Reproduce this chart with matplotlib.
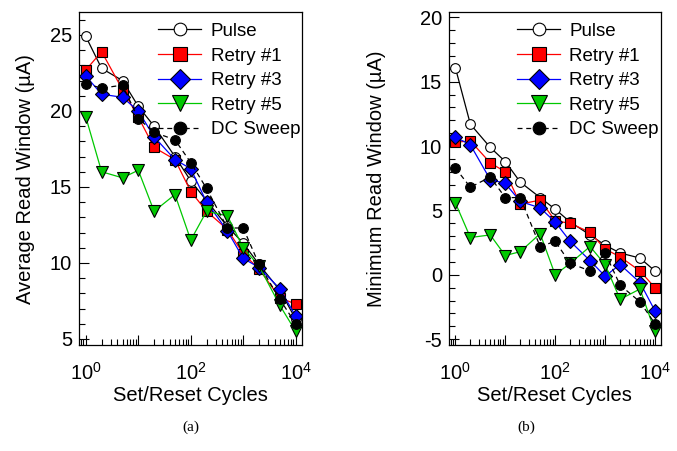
import matplotlib
matplotlib.use('Agg')
import matplotlib.pyplot as plt
from matplotlib.ticker import LogLocator, MultipleLocator, NullFormatter, FixedLocator, FixedFormatter

plt.rcParams['font.family'] = ['Liberation Sans', 'DejaVu Sans']
plt.rcParams['mathtext.fontset'] = 'custom'
plt.rcParams['mathtext.rm'] = 'Liberation Sans'
plt.rcParams['mathtext.it'] = 'Liberation Sans'
plt.rcParams['axes.unicode_minus'] = False

cycles = [1, 2, 5, 10, 20, 50, 100, 200, 500, 1000, 2000, 5000, 10000]
series_names = ['Pulse', 'Retry #1', 'Retry #3', 'Retry #5', 'DC Sweep']

# (a) average read window, uA
avg_pulse = [24.9, 22.8, 22.0, 20.3, 19.0, 17.0, 15.4, 14.1, 12.4, 11.3, 9.9, 8.2, 6.3]
avg_retry1 = [22.7, 23.9, 21.4, 19.6, 17.6, 16.8, 14.7, 13.4, 12.2, 10.6, 9.6, 7.7, 7.3]
avg_retry3 = [22.3, 21.1, 20.9, 20.0, 18.3, 16.8, 16.2, 14.0, 12.1, 10.3, 9.7, 8.3, 6.5]
avg_retry5 = [19.6, 16.0, 15.6, 16.1, 13.4, 14.5, 11.5, 13.4, 13.1, 11.0, 9.8, 7.2, 5.5]
avg_dc = [21.8, 21.5, 21.7, 19.5, 18.6, 18.1, 16.6, 14.9, 12.3, 12.3, 9.9, 7.6, 6.0]

# (b) minimum read window, uA
min_pulse = [16.1, 11.7, 9.9, 8.8, 7.2, 6.0, 5.1, 4.1, 3.1, 2.3, 1.7, 1.3, 0.3]
min_retry1 = [10.3, 10.4, 8.7, 8.0, 5.5, 5.8, 4.2, 4.0, 3.3, 2.0, 1.4, 0.3, -1.0]
min_retry3 = [10.7, 10.1, 7.4, 7.1, 5.7, 5.2, 4.1, 2.6, 1.1, -0.1, 0.8, -0.6, -2.8]
min_retry5 = [5.6, 2.9, 3.1, 1.5, 1.8, 3.2, 0.0, 0.9, 2.2, 0.8, -1.9, -1.1, -4.4]
min_dc = [8.3, 6.8, 7.6, 6.0, 6.0, 2.2, 2.6, 0.9, 0.3, 1.7, -0.8, -2.1, -3.8]

styles = [
    dict(color='black', marker='o', mfc='white', mec='black', ms=7, lw=0.9, ls='-'),
    dict(color='red', marker='s', mfc='red', mec='black', ms=7.5, lw=0.9, ls='-'),
    dict(color='blue', marker='D', mfc='blue', mec='black', ms=7.5, lw=0.9, ls='-'),
    dict(color='#00c800', marker='v', mfc='#00c800', mec='black', ms=8.5, lw=0.9, ls='-'),
    dict(color='black', marker='o', mfc='black', mec='black', ms=7, lw=0.9, ls=(0, (4, 3))),
]

fig = plt.figure(figsize=(6.77, 4.51), dpi=100)
ax1 = fig.add_axes([0.1167, 0.235, 0.329, 0.738])
ax2 = fig.add_axes([0.663, 0.235, 0.313, 0.738])

def draw(ax, data, ylabel, ylim, yticks, ypad):
    for vals, name, st in zip(data, series_names, styles):
        ax.plot(cycles, vals, label=name, mew=0.8, **st)
    ax.set_xscale('log')
    ax.set_xlim(10 ** -0.13, 10 ** 4.115)
    ax.set_ylim(*ylim)
    ax.xaxis.set_major_locator(FixedLocator([1, 10, 100, 1000, 10000]))
    ax.xaxis.set_major_formatter(FixedFormatter(['$10^{0}$', '', '$10^{2}$', '', '$10^{4}$']))
    ax.xaxis.set_minor_locator(LogLocator(base=10, subs=range(2, 10), numticks=20))
    ax.xaxis.set_minor_formatter(NullFormatter())
    ax.yaxis.set_major_locator(FixedLocator(yticks))
    ax.yaxis.set_minor_locator(MultipleLocator(1))
    ax.tick_params(which='both', direction='in', top=False, right=False, labelsize=14.5)
    ax.tick_params(which='major', length=7, width=0.8)
    ax.tick_params(which='minor', length=4, width=0.8)
    ax.tick_params(axis='x', pad=12)
    ax.tick_params(axis='y', pad=5)
    ax.set_xlabel('Set/Reset Cycles', fontsize=14.5, labelpad=2)
    ax.set_ylabel(ylabel, fontsize=14.5, labelpad=ypad)
    for s in ax.spines.values():
        s.set_linewidth(0.9)
    ax.legend(loc='upper right', bbox_to_anchor=(1.018, 0.985), frameon=False,
              fontsize=13.5, handlelength=2.3, markerscale=1.3, labelspacing=0.4,
              borderaxespad=0.0, borderpad=0.3, handletextpad=0.5)

draw(ax1, [avg_pulse, avg_retry1, avg_retry3, avg_retry5, avg_dc],
     'Average Read Window (\u00b5A)', (4.6, 26.5), [5, 10, 15, 20, 25], 11)
draw(ax2, [min_pulse, min_retry1, min_retry3, min_retry5, min_dc],
     'Minimum Read Window (\u00b5A)', (-5.45, 20.4), [-5, 0, 5, 10, 15, 20], 24)

fig.text(0.282, 0.045, '(a)', fontsize=11, family='Liberation Serif', ha='center')
fig.text(0.777, 0.045, '(b)', fontsize=11, family='Liberation Serif', ha='center')

fig.savefig('out.png', dpi=100)
